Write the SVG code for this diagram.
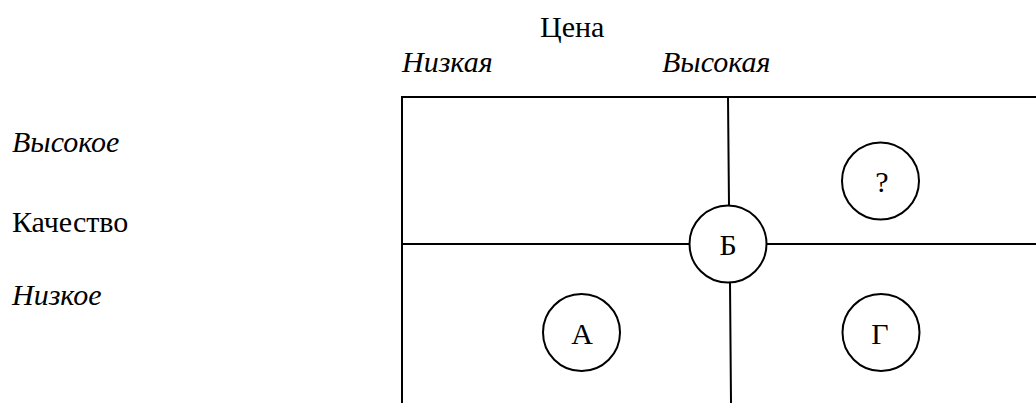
<svg xmlns="http://www.w3.org/2000/svg" width="1036" height="403" viewBox="0 0 1036 403">
<defs>
<circle id="ring" cx="0" cy="0" r="38.5" fill="#fff" stroke="#000" stroke-width="2"/>
</defs>
<rect width="1036" height="403" fill="#fff"/>
<g id="labels" fill="#000">
<text style="font-family:'Liberation Serif','Times New Roman',serif;font-size:30px" x="540" y="37">Цена</text>
<text style="font-family:'Liberation Serif','Times New Roman',serif;font-size:30px;font-style:italic" x="402" y="72">Низкая</text>
<text style="font-family:'Liberation Serif','Times New Roman',serif;font-size:30px;font-style:italic" x="662" y="72">Высокая</text>
<text style="font-family:'Liberation Serif','Times New Roman',serif;font-size:30px;font-style:italic" x="12" y="152">Высокое</text>
<text style="font-family:'Liberation Serif','Times New Roman',serif;font-size:30px" x="12" y="232">Качество</text>
<text style="font-family:'Liberation Serif','Times New Roman',serif;font-size:30px;font-style:italic" x="12" y="305">Низкое</text>
</g>
<g id="connectors" stroke="#000" stroke-width="2" fill="none">
<path d="M402,403 V97 H1036"/>
<path d="M402,244 H689 M767,244 H1036"/>
<path d="M728,97 L729,206 M730,282 L731,403"/>
</g>
<g id="node-b">
<use href="#ring" x="728" y="244"/>
<text style="font-family:'Liberation Serif','Times New Roman',serif;font-size:30px" x="728" y="255" text-anchor="middle">Б</text>
</g>
<g id="node-q">
<use href="#ring" x="880.5" y="181"/>
<text style="font-family:'Liberation Serif','Times New Roman',serif;font-size:30px" x="882" y="192" text-anchor="middle">?</text>
</g>
<g id="node-a">
<use href="#ring" x="581.5" y="332.5"/>
<text style="font-family:'Liberation Serif','Times New Roman',serif;font-size:30px" x="582" y="344" text-anchor="middle">А</text>
</g>
<g id="node-g">
<use href="#ring" x="881" y="332.5"/>
<text style="font-family:'Liberation Serif','Times New Roman',serif;font-size:30px" x="880" y="344" text-anchor="middle">Г</text>
</g>
</svg>
